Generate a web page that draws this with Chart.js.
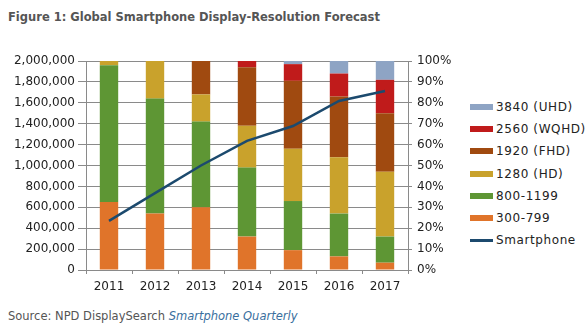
<!DOCTYPE html>
<html>
<head>
<meta charset="utf-8">
<script src="https://cdn.jsdelivr.net/npm/chart.js@4.4.1/dist/chart.umd.min.js"></script>
<style>
  body { margin: 0; background: #fff; font-family: "DejaVu Sans", Verdana, sans-serif; }
  #wrap { position: relative; width: 588px; height: 331px; }
  #title { position: absolute; left: 8px; top: 10px; font-size: 11.5px; font-weight: bold; color: #555; }
  #source { position: absolute; left: 8px; top: 309px; font-size: 11.5px; color: #555; }
  #source i { color: #3a6f9e; }
  #holder { position: absolute; left: 0; top: 0; width: 470px; height: 300px; }
  #legend { position: absolute; left: 470px; top: 96px; font-size: 12px; letter-spacing: 0.6px; color: #222; }
  .row { height: 22.2px; display: flex; align-items: center; }
  .sw { width: 23px; height: 6px; margin-right: 3px; }
</style>
</head>
<body>
<div id="wrap">
  <div id="title">Figure 1: Global Smartphone Display-Resolution Forecast</div>
  <div id="holder"><canvas id="maincanvas"></canvas></div>
  <div id="legend"></div>
  <div id="source">Source: NPD DisplaySearch <i>Smartphone Quarterly</i></div>
</div>
<script>
var years = ["2011", "2012", "2013", "2014", "2015", "2016", "2017"];
// share of shipments by resolution class, percent
var res300 = [32.5, 27, 30, 16, 9.5, 6.5, 3.5];
var res800 = [65.5, 55, 41, 33, 23.5, 20.5, 12.5];
var res1280 = [2, 18, 13, 20, 25, 27, 31];
var res1920 = [0, 0, 16, 28, 32.5, 29, 28];
var res2560 = [0, 0, 0, 3, 8, 11, 16];
var res3840 = [0, 0, 0, 0, 1.5, 6, 9];
// smartphone units (thousands), left axis
var smartphone = [470000, 735000, 1000000, 1236000, 1378000, 1618000, 1713000];

var barSets = [
    { label: "300-799", data: res300, color: "#e0742a" },
    { label: "800-1199", data: res800, color: "#5e9634" },
    { label: "1280 (HD)", data: res1280, color: "#c9a22c" },
    { label: "1920 (FHD)", data: res1920, color: "#a04a10" },
    { label: "2560 (WQHD)", data: res2560, color: "#c01b1b" },
    { label: "3840 (UHD)", data: res3840, color: "#8ea4c4" }
];
var lineColor = "#1c4a6e";
var gridColor = "#8a8a8a";

var datasets = [{
    type: "line",
    label: "Smartphone",
    data: smartphone,
    yAxisID: "y",
    borderColor: lineColor,
    borderWidth: 2.5,
    pointRadius: 0,
    tension: 0,
    order: 0
}];
barSets.forEach(function(s){
    datasets.push({
        type: "bar",
        label: s.label,
        data: s.data,
        yAxisID: "y2",
        backgroundColor: s.color,
        borderWidth: 0,
        barPercentage: 0.4,
        categoryPercentage: 1,
        order: 1
    });
});

var tickFont = { family: "DejaVu Sans", size: 12 };

new Chart(document.getElementById("maincanvas").getContext("2d"), {
    data: { labels: years, datasets: datasets },
    options: {
        responsive: true,
        maintainAspectRatio: false,
        animation: false,
        layout: { padding: { top: 61, bottom: 0, left: 0, right: 0 } },
        plugins: { legend: { display: false }, tooltip: { enabled: false } },
        scales: {
            x: {
                stacked: true,
                grid: { offset: true, drawOnChartArea: false, color: gridColor, tickLength: 4 },
                border: { color: gridColor },
                ticks: { color: "#222", font: tickFont, padding: 6, maxRotation: 0 },
                afterFit: function(s){ s.height = 30; }
            },
            y: {
                position: "left",
                min: 0, max: 2000000,
                ticks: { stepSize: 200000, color: "#222", font: tickFont, padding: 3,
                    callback: function(v){ return v.toLocaleString("en-US"); } },
                grid: { color: gridColor, tickLength: 8 },
                border: { color: gridColor },
                afterFit: function(s){ s.width = 86; }
            },
            y2: {
                position: "right",
                stacked: true,
                min: 0, max: 100,
                ticks: { stepSize: 10, color: "#222", font: tickFont, padding: 5,
                    callback: function(v){ return v + "%"; } },
                grid: { drawOnChartArea: false, color: gridColor, tickLength: 4 },
                border: { color: gridColor },
                afterFit: function(s){ s.width = 62; }
            }
        }
    }
});

// legend, top entry is the top of the stack
var leg = document.getElementById("legend");
barSets.slice().reverse().forEach(function(s){
    leg.innerHTML += '<div class="row"><span class="sw" style="background:' + s.color + '"></span>' + s.label + '</div>';
});
leg.innerHTML += '<div class="row"><span class="sw" style="height:3px;background:' + lineColor + '"></span>Smartphone</div>';
</script>
</body>
</html>
